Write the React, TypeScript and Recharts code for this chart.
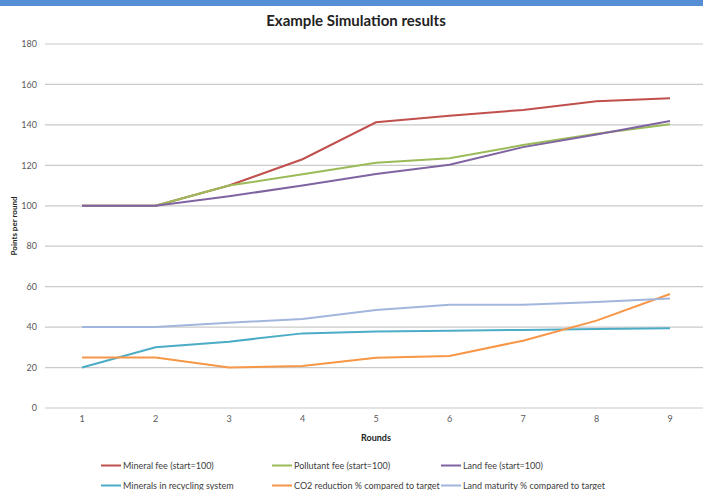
import React from 'react'
import { LineChart, Line, XAxis, YAxis, CartesianGrid } from 'recharts'

const rounds = ['1', '2', '3', '4', '5', '6', '7', '8', '9']
const yTicks = [0, 20, 40, 60, 80, 100, 120, 140, 160, 180]

const mineralFee = [100, 100, 110, 123, 141.3, 144.5, 147.4, 151.7, 153.2]
const pollutantFee = [100, 100, 110, 115.6, 121.3, 123.5, 130, 135.6, 140.3]
const landFee = [100, 100, 104.7, 110, 115.7, 120.3, 129, 135.3, 141.9]
const mineralsRecycling = [20, 30, 32.8, 36.9, 37.8, 38.2, 38.6, 39.1, 39.4]
const co2Reduction = [25, 25, 20, 20.8, 24.9, 25.7, 33.3, 43.2, 56.4]
const landMaturity = [40, 40, 42.2, 44, 48.5, 51, 51, 52.4, 54.2]

const series = [
  { key: 'mineral', name: 'Mineral fee (start=100)', values: mineralFee, color: '#C0504D' },
  { key: 'pollutant', name: 'Pollutant fee (start=100)', values: pollutantFee, color: '#9BBB59' },
  { key: 'land', name: 'Land fee (start=100)', values: landFee, color: '#8064A2' },
  { key: 'recycling', name: 'Minerals in recycling system', values: mineralsRecycling, color: '#4BACC6' },
  { key: 'co2', name: 'CO2 reduction % compared to target', values: co2Reduction, color: '#F79646' },
  { key: 'maturity', name: 'Land maturity % compared to target', values: landMaturity, color: '#A2B6DD' },
]

const data = rounds.map((r, i) => {
  const row: Record<string, string | number> = { round: r }
  series.forEach((s) => {
    row[s.key] = s.values[i]
  })
  return row
})

const font = 'Lato, "Open Sans", sans-serif'
const legendCols = [101, 272, 441]
const legendRows = [465, 485]

export default function App() {
  return (
    <div
      style={{
        position: 'absolute',
        left: 0,
        top: 0,
        width: 703,
        height: 490,
        background: '#fff',
        overflow: 'hidden',
        fontFamily: font,
      }}
    >
      <div style={{ position: 'absolute', left: 0, top: 0, width: 703, height: 6, background: '#558ED5' }} />
      <div
        style={{
          position: 'absolute',
          left: 0,
          top: 11,
          width: 712,
          textAlign: 'center',
          fontSize: 15,
          fontWeight: 700,
          color: '#222',
        }}
      >
        Example Simulation results
      </div>

      <LineChart
        width={703}
        height={490}
        data={data}
        margin={{ top: 44, right: 0, bottom: 52, left: 0 }}
        style={{ position: 'absolute', left: 0, top: 0 }}
      >
        <CartesianGrid vertical={false} stroke="#CACACA" strokeWidth={1.2} />
        <XAxis
          dataKey="round"
          axisLine={false}
          tickLine={false}
          height={30}
          padding={{ left: 37, right: 33 }}
          tick={{ fill: '#595959', fontSize: 9, fontFamily: font }}
        />
        <YAxis
          width={45}
          domain={[0, 180]}
          ticks={yTicks}
          axisLine={false}
          tickLine={false}
          tick={{ fill: '#595959', fontSize: 9, fontFamily: font }}
        />
        {series.map((s) => (
          <Line
            key={s.key}
            dataKey={s.key}
            name={s.name}
            stroke={s.color}
            strokeWidth={2}
            dot={false}
            isAnimationActive={false}
          />
        ))}
      </LineChart>

      <div
        style={{
          position: 'absolute',
          left: 14,
          top: 226,
          transform: 'translate(-50%, -50%) rotate(-90deg)',
          fontSize: 8,
          fontWeight: 700,
          color: '#222',
          whiteSpace: 'nowrap',
        }}
      >
        Points per round
      </div>
      <div
        style={{
          position: 'absolute',
          left: 376,
          top: 437,
          transform: 'translate(-50%, -50%)',
          fontSize: 9,
          fontWeight: 700,
          color: '#222',
        }}
      >
        Rounds
      </div>

      {series.map((s, i) => (
        <div
          key={s.key}
          style={{
            position: 'absolute',
            left: legendCols[i % 3],
            top: legendRows[Math.floor(i / 3)],
            transform: 'translateY(-50%)',
            display: 'flex',
            alignItems: 'center',
            fontSize: 9,
            color: '#404040',
            whiteSpace: 'nowrap',
          }}
        >
          <span style={{ display: 'inline-block', width: 20, height: 2, background: s.color, marginRight: 2 }} />
          {s.name}
        </div>
      ))}
    </div>
  )
}
